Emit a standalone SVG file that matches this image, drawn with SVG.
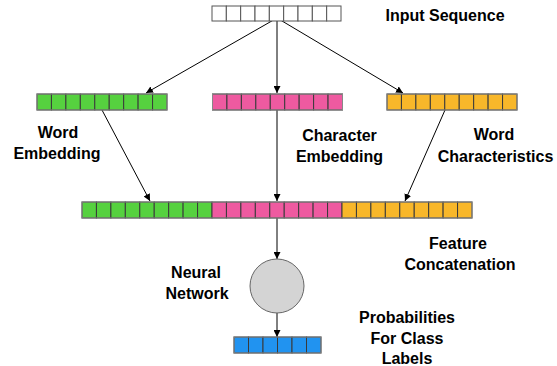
<svg xmlns="http://www.w3.org/2000/svg" width="557" height="366" viewBox="0 0 557 366">
<defs>
<style>
.t{font-family:"Liberation Sans",Arial,sans-serif;font-weight:bold;font-size:16px;fill:#000;text-anchor:middle}
.c{stroke:#3a3a3a;stroke-width:1}
.o{fill:none;stroke:#888;stroke-width:1}
.w{fill:#fff}
.g{fill:#56d13f}
.p{fill:#ee5aa0}
.y{fill:#f8b72a}
.b{fill:#2193f0}
.ln{stroke:#000;stroke-width:1;fill:none;marker-end:url(#ah)}
</style>
<marker id="ah" viewBox="0 0 10 10" refX="10" refY="5" markerWidth="7" markerHeight="7" markerUnits="userSpaceOnUse" orient="auto">
<path d="M0,0 L10,5 L0,10 z" fill="#000"/>
</marker>
</defs>
<rect width="557" height="366" fill="#fff"/>
<g id="connectors">
<line class="ln" x1="277" y1="18" x2="146" y2="93"/>
<line class="ln" x1="277" y1="18" x2="277" y2="93"/>
<line class="ln" x1="277" y1="18" x2="403" y2="93"/>
<line class="ln" x1="102" y1="110" x2="150" y2="201"/>
<line class="ln" x1="277" y1="110" x2="277" y2="201"/>
<line class="ln" x1="445" y1="110" x2="405" y2="201"/>
<line class="ln" x1="277" y1="218" x2="277" y2="259"/>
<line class="ln" x1="277" y1="313" x2="277" y2="337"/>
</g>
<g id="input-sequence">
<g class="w" stroke="#555" stroke-width="1">
<rect x="212" y="6" width="14.33" height="15"/>
<rect x="226.33" y="6" width="14.33" height="15"/>
<rect x="240.67" y="6" width="14.33" height="15"/>
<rect x="255" y="6" width="14.33" height="15"/>
<rect x="269.33" y="6" width="14.33" height="15"/>
<rect x="283.67" y="6" width="14.33" height="15"/>
<rect x="298" y="6" width="14.33" height="15"/>
<rect x="312.33" y="6" width="14.33" height="15"/>
<rect x="326.67" y="6" width="14.33" height="15"/>
</g>
<text class="t" x="445" y="21">Input Sequence</text>
</g>
<g id="word-embedding">
<g class="g c">
<rect x="37" y="94" width="14.44" height="16"/><rect x="51.44" y="94" width="14.44" height="16"/><rect x="65.89" y="94" width="14.44" height="16"/><rect x="80.33" y="94" width="14.44" height="16"/><rect x="94.78" y="94" width="14.44" height="16"/><rect x="109.22" y="94" width="14.44" height="16"/><rect x="123.67" y="94" width="14.44" height="16"/><rect x="138.11" y="94" width="14.44" height="16"/><rect x="152.56" y="94" width="14.44" height="16"/>
</g>
<rect class="o" x="37" y="94" width="130" height="16"/>
<text class="t" x="58" y="138">Word</text>
<text class="t" x="57" y="159">Embedding</text>
</g>
<g id="character-embedding">
<g class="p c">
<rect x="212.5" y="94" width="14.44" height="16"/><rect x="226.94" y="94" width="14.44" height="16"/><rect x="241.39" y="94" width="14.44" height="16"/><rect x="255.83" y="94" width="14.44" height="16"/><rect x="270.28" y="94" width="14.44" height="16"/><rect x="284.72" y="94" width="14.44" height="16"/><rect x="299.17" y="94" width="14.44" height="16"/><rect x="313.61" y="94" width="14.44" height="16"/><rect x="328.06" y="94" width="14.44" height="16"/>
</g>
<rect class="o" x="212.5" y="94" width="130" height="16"/>
<text class="t" x="339.5" y="141">Character</text>
<text class="t" x="339.5" y="162">Embedding</text>
</g>
<g id="word-characteristics">
<g class="y c">
<rect x="387" y="94" width="14.44" height="16"/><rect x="401.44" y="94" width="14.44" height="16"/><rect x="415.89" y="94" width="14.44" height="16"/><rect x="430.33" y="94" width="14.44" height="16"/><rect x="444.78" y="94" width="14.44" height="16"/><rect x="459.22" y="94" width="14.44" height="16"/><rect x="473.67" y="94" width="14.44" height="16"/><rect x="488.11" y="94" width="14.44" height="16"/><rect x="502.56" y="94" width="14.44" height="16"/>
</g>
<rect class="o" x="387" y="94" width="130" height="16"/>
<text class="t" x="494" y="140">Word</text>
<text class="t" x="495.5" y="162">Characteristics</text>
</g>
<g id="feature-concatenation">
<g class="g c">
<rect x="82" y="202" width="14.44" height="16"/><rect x="96.44" y="202" width="14.44" height="16"/><rect x="110.89" y="202" width="14.44" height="16"/><rect x="125.33" y="202" width="14.44" height="16"/><rect x="139.78" y="202" width="14.44" height="16"/><rect x="154.22" y="202" width="14.44" height="16"/><rect x="168.67" y="202" width="14.44" height="16"/><rect x="183.11" y="202" width="14.44" height="16"/><rect x="197.56" y="202" width="14.44" height="16"/>
</g>
<g class="p c">
<rect x="212" y="202" width="14.44" height="16"/><rect x="226.44" y="202" width="14.44" height="16"/><rect x="240.89" y="202" width="14.44" height="16"/><rect x="255.33" y="202" width="14.44" height="16"/><rect x="269.78" y="202" width="14.44" height="16"/><rect x="284.22" y="202" width="14.44" height="16"/><rect x="298.67" y="202" width="14.44" height="16"/><rect x="313.11" y="202" width="14.44" height="16"/><rect x="327.56" y="202" width="14.44" height="16"/>
</g>
<g class="y c">
<rect x="342" y="202" width="14.44" height="16"/><rect x="356.44" y="202" width="14.44" height="16"/><rect x="370.89" y="202" width="14.44" height="16"/><rect x="385.33" y="202" width="14.44" height="16"/><rect x="399.78" y="202" width="14.44" height="16"/><rect x="414.22" y="202" width="14.44" height="16"/><rect x="428.67" y="202" width="14.44" height="16"/><rect x="443.11" y="202" width="14.44" height="16"/><rect x="457.56" y="202" width="14.44" height="16"/>
</g>
<rect class="o" x="82" y="202" width="390" height="16"/>
<text class="t" x="458" y="249">Feature</text>
<text class="t" x="460" y="270">Concatenation</text>
</g>
<g id="neural-network">
<circle cx="277" cy="286" r="27" fill="#d4d4d4" stroke="#666" stroke-width="1"/>
<text class="t" x="196" y="278">Neural</text>
<text class="t" x="197" y="299">Network</text>
</g>
<g id="probabilities">
<g class="b c">
<rect x="234" y="337" width="14.5" height="16"/><rect x="248.5" y="337" width="14.5" height="16"/><rect x="263" y="337" width="14.5" height="16"/><rect x="277.5" y="337" width="14.5" height="16"/><rect x="292" y="337" width="14.5" height="16"/><rect x="306.5" y="337" width="14.5" height="16"/>
</g>
<rect class="o" x="234" y="337" width="87" height="16"/>
<text class="t" x="407" y="323">Probabilities</text>
<text class="t" x="407" y="344">For Class</text>
<text class="t" x="407" y="364">Labels</text>
</g>
</svg>
